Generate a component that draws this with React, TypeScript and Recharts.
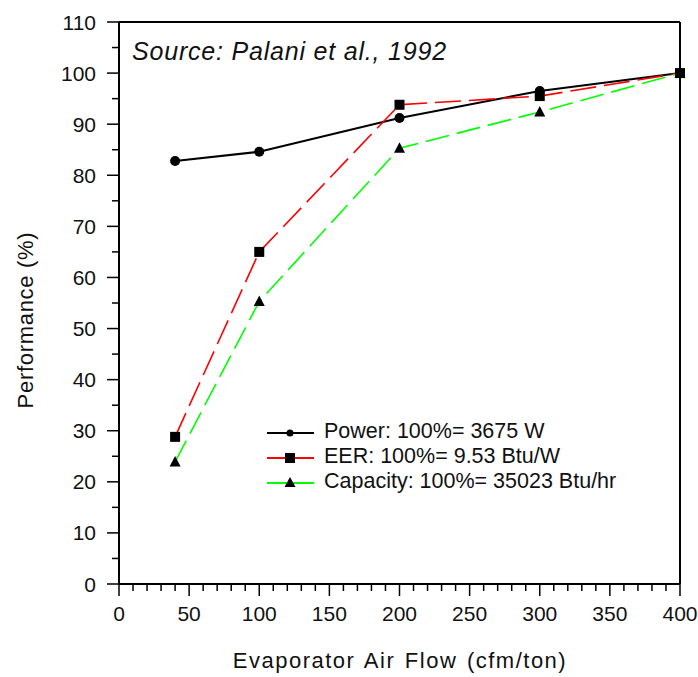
import React from "react"
import { LineChart, Line, XAxis, YAxis, ReferenceLine, Customized } from "recharts"

const airFlow = [40, 100, 200, 300, 400]
const powerPct = [82.8, 84.6, 91.2, 96.5, 100]
const eerPct = [28.8, 65.0, 93.8, 95.5, 100]
const capacityPct = [23.9, 55.3, 85.3, 92.4, 100]

const xLabels = [0, 50, 100, 150, 200, 250, 300, 350, 400]
const yLabels = [0, 10, 20, 30, 40, 50, 60, 70, 80, 90, 100, 110]

const legendNames = [
  "Power: 100%= 3675 W",
  "EER: 100%= 9.53 Btu/W",
  "Capacity: 100%= 35023 Btu/hr",
]
const sourceNote = "Source: Palani et al., 1992"

const FONT = "'Liberation Sans', Arial, sans-serif"

const data = airFlow.map((x, i) => ({
  x,
  power: powerPct[i],
  eer: eerPct[i],
  capacity: capacityPct[i],
}))

// minor ticks every 10 on x, every 5 on y
const xTicks: number[] = []
for (let v = 0; v <= 400; v += 10) xTicks.push(v)
const yTicks: number[] = []
for (let v = 0; v <= 110; v += 5) yTicks.push(v)

function XTick(props: any) {
  const { x, y, payload } = props
  const v = payload.value
  const major = xLabels.includes(v)
  return (
    <g>
      <line x1={x} y1={y} x2={x} y2={y + (major ? 12 : 7)} stroke="#000" strokeWidth={1.5} />
      {major && (
        <text x={x} y={y + 37} textAnchor="middle" fontSize={21} fontFamily={FONT} fill="#111">
          {v}
        </text>
      )}
    </g>
  )
}

function YTick(props: any) {
  const { x, y, payload } = props
  const v = payload.value
  const major = yLabels.includes(v)
  return (
    <g>
      <line x1={x} y1={y} x2={x - (major ? 12 : 7)} y2={y} stroke="#000" strokeWidth={1.5} />
      {major && (
        <text x={x - 23} y={y + 7.5} textAnchor="end" fontSize={21} fontFamily={FONT} fill="#111">
          {v}
        </text>
      )}
    </g>
  )
}

const circleDot = (p: any) => (
  <circle key={`c${p.index}`} cx={p.cx} cy={p.cy} r={5} fill="#000" />
)
const squareDot = (p: any) => (
  <rect key={`s${p.index}`} x={p.cx - 5} y={p.cy - 5} width={10} height={10} fill="#000" />
)
const triangleDot = (p: any) => (
  <path
    key={`t${p.index}`}
    d={`M${p.cx},${p.cy - 6} L${p.cx + 5.5},${p.cy + 4.5} L${p.cx - 5.5},${p.cy + 4.5} Z`}
    fill="#000"
  />
)

function Extras() {
  const rows = [
    { y: 433, color: "#000", shape: "circle" },
    { y: 458, color: "#ff0000", shape: "square" },
    { y: 483, color: "#00ff00", shape: "triangle" },
  ]
  return (
    <g fontFamily={FONT} fill="#111">
      <text x={132} y={60} fontSize={25} fontStyle="italic" letterSpacing={0.8}>
        {sourceNote}
      </text>
      {rows.map((r, i) => (
        <g key={i}>
          <line x1={267} y1={r.y} x2={314} y2={r.y} stroke={r.color} strokeWidth={1.8} />
          {r.shape === "circle" && <circle cx={290} cy={r.y} r={3.5} fill="#000" />}
          {r.shape === "square" && <rect x={285} y={r.y - 5} width={10} height={10} fill="#000" />}
          {r.shape === "triangle" && (
            <path d={`M290,${r.y - 6} L295.5,${r.y + 4} L284.5,${r.y + 4} Z`} fill="#000" />
          )}
          <text x={324} y={r.y + 4.5} fontSize={21.5}>
            {legendNames[i]}
          </text>
        </g>
      ))}
      <text x={400} y={668} fontSize={22} letterSpacing={1.5} wordSpacing={2} textAnchor="middle">
        Evaporator Air Flow (cfm/ton)
      </text>
      <text
        x={0}
        y={0}
        fontSize={22}
        letterSpacing={0.7}
        textAnchor="middle"
        transform="translate(33,320) rotate(-90)"
      >
        Performance (%)
      </text>
    </g>
  )
}

export default function App() {
  return (
    <div style={{ position: "absolute", left: 0, top: 0, background: "#fff" }}>
      <LineChart
        width={698}
        height={677}
        data={data}
        margin={{ top: 22, right: 18, left: 0, bottom: 0 }}
      >
        <XAxis
          dataKey="x"
          type="number"
          domain={[0, 400]}
          ticks={xTicks}
          interval={0}
          height={93}
          tickSize={0}
          tickMargin={0}
          tick={<XTick />}
          axisLine={{ stroke: "#000", strokeWidth: 2 }}
          tickLine={false}
        />
        <YAxis
          type="number"
          domain={[0, 110]}
          ticks={yTicks}
          interval={0}
          width={119}
          tickSize={0}
          tickMargin={0}
          tick={<YTick />}
          axisLine={{ stroke: "#000", strokeWidth: 2 }}
          tickLine={false}
        />
        <ReferenceLine y={110} stroke="#000" strokeWidth={2} />
        <ReferenceLine x={400} stroke="#000" strokeWidth={2} />
        <Line
          dataKey="power"
          stroke="#000"
          strokeWidth={2}
          dot={circleDot}
          isAnimationActive={false}
        />
        <Line
          dataKey="eer"
          stroke="#ff0000"
          strokeWidth={1.6}
          strokeDasharray="26 8"
          dot={squareDot}
          isAnimationActive={false}
        />
        <Line
          dataKey="capacity"
          stroke="#00ff00"
          strokeWidth={1.6}
          strokeDasharray="24 8"
          dot={triangleDot}
          isAnimationActive={false}
        />
        <Customized component={Extras} />
      </LineChart>
    </div>
  )
}
